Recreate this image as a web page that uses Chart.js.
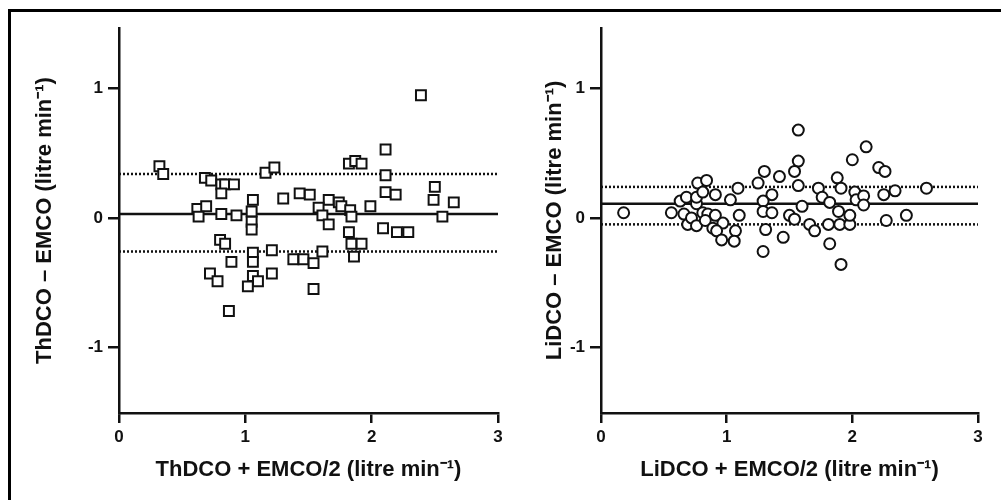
<!DOCTYPE html>
<html>
<head>
<meta charset="utf-8">
<script src="https://cdn.jsdelivr.net/npm/chart.js@4/dist/chart.umd.min.js"></script>
<style>
  html, body { margin: 0; padding: 0; background: #fff; }
  body { width: 1001px; height: 500px; position: relative; overflow: hidden; }
  #frame { position: absolute; left: 8px; top: 9px; width: 1000px; height: 500px;
           border-top: 3px solid #000; border-left: 3px solid #000; }
  #left { position: absolute; left: 12px; top: 12px; }
  #right { position: absolute; left: 540px; top: 12px; }
</style>
</head>
<body>
<div id="frame"></div>
<canvas id="left" width="528" height="488"></canvas>
<canvas id="right" width="461" height="488"></canvas>
<script>
// ThDCO vs EMCO (left panel)
const thX = [0.32, 0.35, 0.68, 0.73, 0.81, 0.84, 0.91, 0.81, 1.16, 1.23, 1.30, 1.43, 1.51, 1.06,
  0.62, 0.69, 0.63, 0.81, 0.93, 1.05, 1.05, 1.05, 0.80, 0.84, 0.89, 1.06, 1.06, 1.21, 1.38, 1.46,
  0.72, 0.78, 1.06, 1.10, 1.02, 1.21, 0.87, 1.54,
  2.39, 2.11, 1.82, 1.87, 1.92, 2.11, 2.11, 2.19, 2.50, 2.49, 2.65, 2.56, 1.99, 1.66, 1.74, 1.76,
  1.58, 1.61, 1.66, 1.83, 1.84, 1.82, 1.84, 1.92, 1.86, 2.09, 2.20, 2.29, 1.61, 1.54];
const thY = [0.40, 0.34, 0.31, 0.29, 0.26, 0.26, 0.26, 0.19, 0.35, 0.39, 0.15, 0.19, 0.18, 0.14,
  0.07, 0.09, 0.01, 0.03, 0.02, 0.05, -0.03, -0.09, -0.17, -0.20, -0.34, -0.27, -0.34, -0.25, -0.32, -0.32,
  -0.43, -0.49, -0.45, -0.49, -0.53, -0.43, -0.72, -0.55,
  0.95, 0.53, 0.42, 0.44, 0.42, 0.33, 0.20, 0.18, 0.24, 0.14, 0.12, 0.01, 0.09, 0.14, 0.12, 0.09,
  0.08, 0.02, -0.05, 0.06, 0.01, -0.11, -0.20, -0.20, -0.30, -0.08, -0.11, -0.11, -0.26, -0.35];
const thMean = 0.03;
const thLimits = [0.34, -0.26];

// LiDCO vs EMCO (right panel)
const liX = [0.18, 0.56, 0.63, 0.66, 0.69, 0.68, 0.72, 0.76, 0.76, 0.76, 0.77, 0.84, 0.81, 0.91,
  0.81, 0.85, 0.91, 0.83, 0.89, 0.97, 0.92, 0.96, 1.07, 1.06, 1.10, 1.09, 1.03, 1.25, 1.30, 1.42,
  1.36, 1.29, 1.29, 1.36, 1.31, 1.29, 1.45, 1.50,
  1.57, 1.57, 1.54, 1.57, 1.60, 1.54, 1.73, 1.76, 1.82, 1.89, 1.66, 1.70, 1.81, 1.82, 1.91, 1.88,
  1.91, 1.90, 1.98, 1.98, 2.00, 2.11, 2.02, 2.03, 2.09, 2.09, 2.21, 2.26, 2.25, 2.34, 2.27, 2.43, 2.59];
const liY = [0.04, 0.04, 0.13, 0.03, -0.05, 0.16, 0.00, -0.06, 0.11, 0.16, 0.27, 0.29, 0.20, 0.18,
  0.04, 0.03, 0.02, -0.02, -0.08, -0.04, -0.10, -0.17, -0.10, -0.18, 0.02, 0.23, 0.14, 0.27, 0.36, 0.32,
  0.18, 0.13, 0.05, 0.04, -0.09, -0.26, -0.15, 0.02,
  0.68, 0.44, 0.36, 0.25, 0.09, -0.01, 0.23, 0.16, 0.12, 0.05, -0.05, -0.10, -0.05, -0.20, -0.36, 0.31,
  0.23, -0.05, -0.05, 0.02, 0.45, 0.55, 0.20, 0.14, 0.17, 0.10, 0.39, 0.36, 0.18, 0.21, -0.02, 0.02, 0.23];
const liMean = 0.11;
const liLimits = [0.24, -0.05];

const xTicks = [0, 1, 2, 3];
const yTicks = [-1, 0, 1];

const ink = '#111';
const fontFam = '"Liberation Sans", Arial, sans-serif';

function hline(v, dashed) {
  return {
    type: 'line',
    data: [{x: 0, y: v}, {x: 3, y: v}],
    borderColor: ink,
    borderWidth: 2.5,
    borderDash: dashed ? [2, 2] : [],
    pointRadius: 0,
    order: 2
  };
}

function makePanel(id, xs, ys, mean, limits, opts) {
  let pts = xs.map((x, i) => ({x: x, y: ys[i]}));
  let datasets = [
    {
      type: 'scatter',
      data: pts,
      pointStyle: opts.style,
      pointRadius: opts.radius,
      pointBorderWidth: 2,
      pointBorderColor: ink,
      pointBackgroundColor: '#fff',
      order: 1
    },
    hline(mean, false),
    hline(limits[0], true),
    hline(limits[1], true)
  ];

  new Chart(document.getElementById(id), {
    type: 'scatter',
    data: { datasets: datasets },
    options: {
      responsive: false,
      animation: false,
      events: [],
      layout: { padding: { left: 0, top: 16, right: opts.padRight, bottom: 0 } },
      plugins: { legend: { display: false }, tooltip: { enabled: false } },
      scales: {
        x: {
          type: 'linear', min: 0, max: 3,
          afterBuildTicks: s => { s.ticks = xTicks.map(v => ({value: v})); },
          afterFit: s => { s.height = 87; },
          border: { display: true, color: ink, width: 2.5 },
          grid: { drawOnChartArea: false, drawTicks: true, tickLength: 10, color: ink, lineWidth: 2.5 },
          ticks: { color: ink, padding: 4, font: { family: fontFam, size: 17, weight: 'bold' } },
          title: { display: true, text: opts.xTitle, color: ink, padding: { top: 0, bottom: 17 },
                   font: { family: fontFam, size: 22, weight: 'bold' } }
        },
        y: {
          type: 'linear', min: -1.51, max: 1.47,
          afterBuildTicks: s => { s.ticks = yTicks.map(v => ({value: v})); },
          afterFit: s => { s.width = opts.yWidth; },
          border: { display: true, color: ink, width: 2.5 },
          grid: { drawOnChartArea: false, drawTicks: true, tickLength: 11, color: ink, lineWidth: 2.5 },
          ticks: { color: ink, padding: 5, font: { family: fontFam, size: 17, weight: 'bold' },
                   callback: v => (v < 0 ? '-' + Math.abs(v) : '' + v) },
          title: { display: true, text: opts.yTitle, color: ink, padding: { top: opts.yTitlePad, bottom: 0 },
                   font: { family: fontFam, size: 22, weight: 'bold' } }
        }
      }
    }
  });
}

makePanel('left', thX, thY, thMean, thLimits, {
  style: 'rect', radius: 7, padRight: 42, yWidth: 107, yTitlePad: 20,
  xTitle: 'ThDCO + EMCO/2 (litre min\u207B\u00B9)',
  yTitle: 'ThDCO \u2013 EMCO (litre min\u207B\u00B9)'
});

makePanel('right', liX, liY, liMean, liLimits, {
  style: 'circle', radius: 5.5, padRight: 23, yWidth: 61, yTitlePad: 2,
  xTitle: 'LiDCO + EMCO/2 (litre min\u207B\u00B9)',
  yTitle: 'LiDCO \u2013 EMCO (litre min\u207B\u00B9)'
});
</script>
</body>
</html>
